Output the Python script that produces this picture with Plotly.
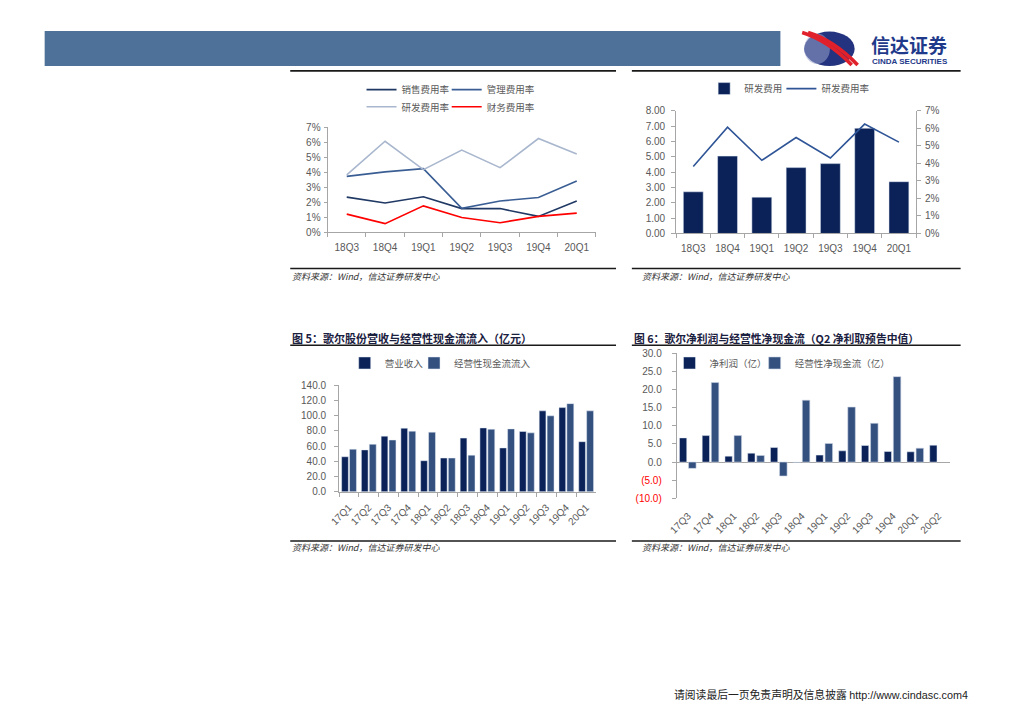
import plotly.graph_objects as go

W, H = 1024, 724
def px(x): return x / W
def py(y): return 1 - y / H

# ---------------- data ----------------
# Chart 1 / 2 quarters
q_a = ["18Q3", "18Q4", "19Q1", "19Q2", "19Q3", "19Q4", "20Q1"]
sales_rate = [0.0235, 0.0196, 0.0238, 0.0159, 0.0159, 0.0107, 0.0209]
admin_rate = [0.0373, 0.0403, 0.0425, 0.0161, 0.0209, 0.0233, 0.0342]
rd_rate = [0.0383, 0.0607, 0.0418, 0.0548, 0.0431, 0.0625, 0.0522]
fin_rate = [0.0122, 0.0059, 0.0177, 0.0100, 0.0065, 0.0107, 0.0129]
rd_cost = [2.72, 5.05, 2.37, 4.30, 4.56, 6.87, 3.38]

# Chart 3
q_b = ["17Q1", "17Q2", "17Q3", "17Q4", "18Q1", "18Q2", "18Q3", "18Q4",
       "19Q1", "19Q2", "19Q3", "19Q4", "20Q1"]
revenue = [46.1, 55.1, 73.2, 83.6, 40.9, 44.4, 70.6, 84.0, 57.7, 79.3, 106.4, 110.7, 65.9]
cash_in = [56.0, 62.5, 68.1, 79.7, 78.4, 44.4, 48.2, 82.3, 82.7, 77.5, 99.9, 115.9, 106.4]

# Chart 4
q_c = ["17Q3", "17Q4", "18Q1", "18Q2", "18Q3", "18Q4", "19Q1", "19Q2",
       "19Q3", "19Q4", "20Q1", "20Q2"]
net_profit = [6.66, 7.30, 1.64, 2.46, 4.01, -0.1, 1.92, 3.10, 4.56, 2.92, 2.83, 4.65]
op_cash = [-1.73, 21.9, 7.30, 1.82, -3.83, 17.05, 5.11, 15.14, 10.67, 23.53, 3.83, None]
c4_tickvals = [30, 25, 20, 15, 10, 5, 0, -5, -10]
c4_ticktext = ["30.0", "25.0", "20.0", "15.0", "10.0", "5.0", "0.0",
               "<span style='color:#FF0000'>(5.0)</span>",
               "<span style='color:#FF0000'>(10.0)</span>"]

# ---------------- styles ----------------
NAVY = "#0B2258"
MBLUE = "#34507F"
LINE_DARK = "#1F3864"
LINE_MID = "#3A5E94"
LINE_LIGHT = "#A9B7CE"
RED = "#FF0000"
AX = "#A6A6A6"
TXT = "#595959"
NUMF = dict(family="Liberation Sans, Arial", size=10, color=TXT)
CJK = "Noto Sans CJK SC"

fig = go.Figure()

# Chart 1 lines
for name, vals, col, lg in [("销售费用率", sales_rate, LINE_DARK, "legend"),
                            ("管理费用率", admin_rate, LINE_MID, "legend2"),
                            ("研发费用率", rd_rate, LINE_LIGHT, "legend3"),
                            ("财务费用率", fin_rate, RED, "legend4")]:
    fig.add_trace(go.Scatter(x=q_a, y=vals, name=name, mode="lines",
                             line=dict(color=col, width=1.6),
                             xaxis="x", yaxis="y", legend=lg))

# Chart 2
fig.add_trace(go.Bar(x=q_a, y=rd_cost, name="研发费用", marker_color=NAVY,
                     width=0.58, offset=-0.29,
                     xaxis="x2", yaxis="y2", legend="legend5"))
fig.add_trace(go.Scatter(x=q_a, y=rd_rate, name="研发费用率", mode="lines",
                         line=dict(color="#2F5597", width=1.6),
                         xaxis="x2", yaxis="y3", legend="legend6"))

# Chart 3
fig.add_trace(go.Bar(x=q_b, y=revenue, name="营业收入", marker_color=NAVY,
                     width=0.34, offset=-0.37,
                     xaxis="x3", yaxis="y4", legend="legend7"))
fig.add_trace(go.Bar(x=q_b, y=cash_in, name="经营性现金流流入", marker_color=MBLUE,
                     width=0.35, offset=0.03,
                     xaxis="x3", yaxis="y4", legend="legend8"))

# Chart 4
fig.add_trace(go.Bar(x=q_c, y=net_profit, name="净利润（亿）", marker_color=NAVY,
                     width=0.32, offset=-0.38,
                     xaxis="x4", yaxis="y5", legend="legend9"))
fig.add_trace(go.Bar(x=q_c, y=op_cash, name="经营性净现金流（亿）", marker_color=MBLUE,
                     marker_line=dict(color="#C9D2E2", width=0.6),
                     width=0.33, offset=0.02,
                     xaxis="x4", yaxis="y5", legend="legend10"))


def xax(domain, anchor, **kw):
    d = dict(domain=domain, anchor=anchor, type="category", showgrid=False,
             zeroline=False, showline=True, linecolor=AX, linewidth=1,
             ticks="outside", ticklen=4, tickcolor=AX, tickson="boundaries",
             tickfont=NUMF, fixedrange=True)
    d.update(kw)
    return d


def yax(domain, anchor, rng, **kw):
    d = dict(domain=domain, anchor=anchor, range=rng, showgrid=False,
             zeroline=False, showline=True, linecolor=AX, linewidth=1,
             ticks="outside", ticklen=4, tickcolor=AX, tickfont=NUMF,
             fixedrange=True)
    d.update(kw)
    return d


def leg(x, y):
    return dict(orientation="h", xanchor="left", yanchor="middle",
                x=px(x), y=py(y),
                font=dict(family=CJK, size=9.5, color=TXT),
                bgcolor="rgba(0,0,0,0)", itemwidth=30,
                tracegroupgap=0, itemclick=False, itemdoubleclick=False)


fig.update_layout(
    width=W, height=H, margin=dict(l=0, r=0, t=0, b=0),
    paper_bgcolor="white", plot_bgcolor="white",
    barmode="overlay", showlegend=True,
    xaxis=xax([px(320.7), px(591.7)], "y", range=[-0.5, 6.5], ticklabelstandoff=6),
    yaxis=yax([py(230.3), py(123.3)], "x", [0, 0.07], dtick=0.01,
              tickformat=".0%", ticklen=3, ticklabelstandoff=1),
    xaxis2=xax([px(672.7), px(915)], "y2", range=[-0.5, 6.5], ticklabelstandoff=6),
    yaxis2=yax([py(231.3), py(106.7)], "x2", [0, 8], dtick=1, tickformat=".2f",
               ticklabelstandoff=4),
    yaxis3=dict(overlaying="y2", side="right", anchor="x2", range=[0, 0.07],
                dtick=0.01, tickformat=".0%", showgrid=False, zeroline=False,
                showline=True, linecolor=AX, ticks="outside", ticklen=4,
                tickcolor=AX, tickfont=NUMF, fixedrange=True, ticklabelstandoff=2),
    xaxis3=xax([px(332.3), px(591.7)], "y4", range=[-0.5, 12.5], tickangle=-45,
               ticklabelstandoff=5),
    yaxis4=yax([py(494), py(385.7)], "x3", [0, 140], dtick=20, tickformat=".1f",
               ticklabelstandoff=6),
    xaxis4=xax([px(673.3), px(949)], "y5", range=[-0.5, 11.5], tickangle=-45,
               showline=False, ticks="", ticklabelstandoff=9),
    yaxis5=yax([py(500.7), py(353)], "x4", [-10, 30], tickvals=c4_tickvals,
               ticktext=c4_ticktext, zeroline=True, zerolinecolor=AX,
               zerolinewidth=1, ticklabelstandoff=8),
    legend=leg(355, 85), legend2=leg(441, 85),
    legend3=leg(355, 102.5), legend4=leg(441, 102.5),
    legend5=leg(701, 84), legend6=leg(779, 84),
    legend7=leg(338, 363), legend8=leg(408, 363),
    legend9=leg(666, 363), legend10=leg(752, 363),
)

shapes = []
# header bar
shapes.append(dict(type="rect", xref="paper", yref="paper",
                   x0=px(35), x1=px(778), y0=py(61), y1=py(25.5),
                   fillcolor="#4E7199", line=dict(width=0), layer="below"))
# logo sphere
shapes.append(dict(type="circle", xref="paper", yref="paper",
                   x0=px(802), x1=px(853), y0=py(61), y1=py(26),
                   fillcolor="#23337F", line=dict(width=0)))
shapes.append(dict(type="circle", xref="paper", yref="paper",
                   x0=px(802), x1=px(828), y0=py(59), y1=py(28),
                   fillcolor="#9AA4CC", line=dict(width=0), opacity=0.55))
# red swooshes over the logo
for off in (0, 6):
    shapes.append(dict(type="path", xref="paper", yref="paper",
                       path=("M {:.5f} {:.5f} Q {:.5f} {:.5f} {:.5f} {:.5f}".format(
                           px(800 + off), py(27), px(826 + off), py(35),
                           px(850 + off), py(60))),
                       line=dict(color="#E0202A", width=3.6)))
# rule lines
for x0, x1, y in [(283, 612, 66), (628, 960, 66),
                  (283, 612, 267), (628, 960, 267),
                  (283, 612, 345), (628, 960, 345),
                  (283, 612, 544), (628, 960, 544)]:
    shapes.append(dict(type="line", xref="paper", yref="paper",
                       x0=px(x0), x1=px(x1), y0=py(y), y1=py(y),
                       line=dict(color="#1A1A1A", width=1.6)))
fig.update_layout(shapes=shapes)

ann = []
src = "资料来源：Wind，信达证券研发中心"
for x, y in [(283, 275), (636, 275), (283, 551), (636, 551)]:
    ann.append(dict(x=px(x), y=py(y), xref="paper", yref="paper", text="<i>" + src + "</i>",
                    showarrow=False, xanchor="left", yanchor="middle",
                    font=dict(family=CJK, size=9, color="#333333")))
ann.append(dict(x=px(283), y=py(338), xref="paper", yref="paper",
                text="<b>图 5：歌尔股份营收与经营性现金流流入（亿元）</b>",
                showarrow=False, xanchor="left", yanchor="middle",
                font=dict(family=CJK, size=11, color="#1A2040")))
ann.append(dict(x=px(628), y=py(338), xref="paper", yref="paper",
                text="<b>图 6：歌尔净利润与经营性净现金流（Q2 净利取预告中值）</b>",
                showarrow=False, xanchor="left", yanchor="middle",
                font=dict(family=CJK, size=10.8, color="#1A2040")))
ann.append(dict(x=px(669), y=py(699.5), xref="paper", yref="paper",
                text="请阅读最后一页免责声明及信息披露 <span style='font-family:Liberation Sans'>http://www.cindasc.com</span>4",
                showarrow=False, xanchor="left", yanchor="middle",
                font=dict(family=CJK, size=10.8, color="#222222")))
ann.append(dict(x=px(867), y=py(39.5), xref="paper", yref="paper",
                text="<b>信达证券</b>", showarrow=False, xanchor="left", yanchor="middle",
                font=dict(family=CJK, size=19, color="#1F3A8A")))
ann.append(dict(x=px(868), y=py(56.5), xref="paper", yref="paper",
                text="<b>CINDA SECURITIES</b>", showarrow=False, xanchor="left",
                yanchor="middle",
                font=dict(family="Liberation Sans Narrow, Liberation Sans", size=8,
                          color="#1F3A8A")))
fig.update_layout(annotations=ann)

fig.write_html("out.html", config={"displayModeBar": False},
               post_script="document.body.style.margin='0px';document.body.style.padding='0px';")
